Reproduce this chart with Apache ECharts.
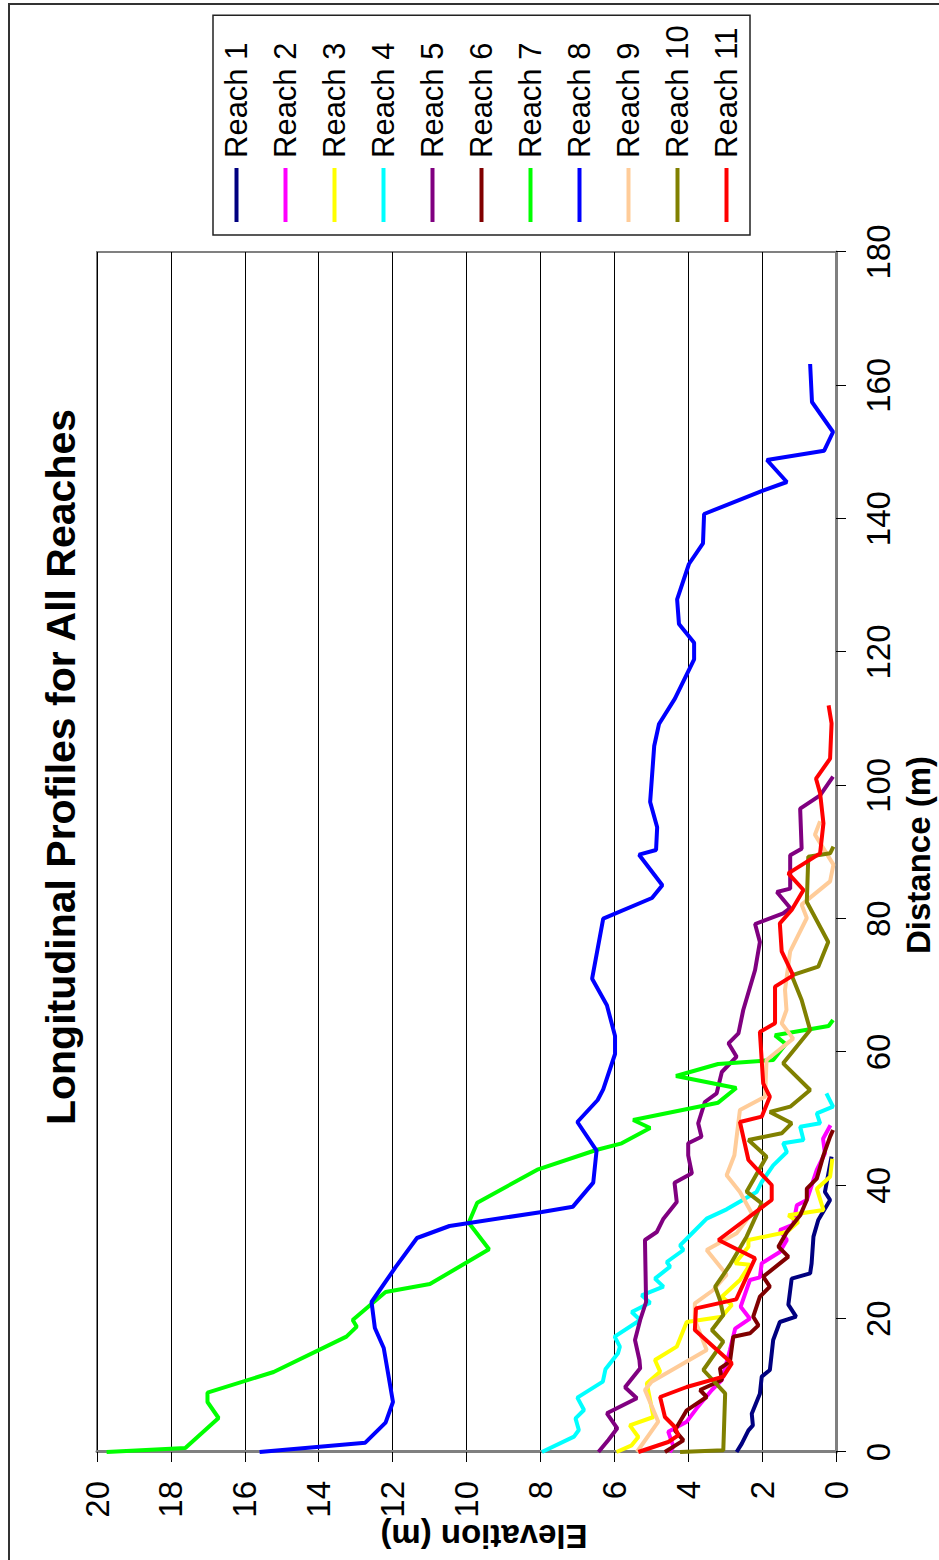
<!DOCTYPE html>
<html>
<head>
<meta charset="utf-8">
<script src="https://cdn.jsdelivr.net/npm/echarts@6/dist/echarts.min.js"></script>
<style>
html,body{margin:0;padding:0;background:#fff;overflow:hidden;width:939px;height:1560px;}
#chart{position:absolute;left:0;top:0;width:1560px;height:939px;transform-origin:0 0;transform:translateY(1560px) rotate(-90deg);}
</style>
</head>
<body>
<div id="chart"></div>
<script>
const seriesNames = ['Reach 1','Reach 2','Reach 3','Reach 4','Reach 5','Reach 6','Reach 7','Reach 8','Reach 9','Reach 10','Reach 11'];
const seriesColors = ['#000080','#FF00FF','#FFFF00','#00FFFF','#800080','#800000','#00FF00','#0000FF','#FFCC99','#808000','#FF0000'];
const distanceTicks = [0,20,40,60,80,100,120,140,160,180];
const elevationTicks = [0,2,4,6,8,10,12,14,16,18,20];

const reach1Distance = [0,1.25,3.25,4.0,5.75,8.75,11.3,12.3,16.8,19.5,20.3,22.1,26.0,26.8,28.3,32.3,34.8,37.8,39.0,44.3];
const reach1Elevation = [2.69,2.55,2.37,2.25,2.28,2.06,2.01,1.79,1.7,1.52,1.08,1.29,1.2,0.7,0.66,0.61,0.48,0.16,0.3,0.12];

const reach2Distance = [0,0.8,3.05,4.55,6.55,9.3,10.8,15.3,18.5,20.0,21.8,25.8,26.2,28.3,30.0,31.8,33.3,34.1,37.0,37.8,42.3,44.8,47.0,49.0];
const reach2Elevation = [4.5,4.4,4.54,4.04,3.77,3.36,3.09,2.87,2.73,2.33,2.58,2.33,2.06,2.01,1.52,1.33,1.52,1.16,1.06,0.79,0.52,0.3,0.35,0.15];

const reach3Distance = [0,1.0,2.25,4.0,5.25,10.3,12.05,13.8,15.8,19.5,20.3,22.05,23.3,25.8,28.1,28.3,30.8,31.8,33.0,34.5,35.5,36.3,39.5,41.3,44.0];
const reach3Elevation = [5.94,5.53,5.35,5.58,4.94,5.12,4.76,4.9,4.31,4.04,3.09,2.82,3.09,2.6,2.33,2.73,2.37,2.37,1.33,1.02,1.29,0.34,0.52,0.16,0.1];

const reach4Distance = [0,2.3,3.3,5.05,6.3,8.15,10.55,12.4,14.8,15.8,17.3,19.8,21.0,22.4,23.5,24.8,26.0,27.8,28.5,30.3,31.0,33.0,35.0,36.4,39.0,40.5,43.0,45.0,46.3,46.8,48.8,49.3,50.8,51.8,53.8];
const reach4Elevation = [7.96,7.09,6.96,7.05,6.82,7.0,6.31,6.24,5.9,5.85,5.99,5.3,5.53,5.03,5.26,4.67,4.9,4.49,4.58,4.13,4.22,3.86,3.5,2.96,2.15,2.01,1.7,1.33,1.43,0.88,0.97,0.43,0.52,0.08,0.26];

const reach5Distance = [0,1.8,3.55,5.8,8.05,9.7,12.55,13.8,16.8,19.8,22.5,31.8,33.0,35.0,37.5,40.4,41.8,44.5,46.3,47.3,49.3,52.5,53.8,57.0,59.3,61.3,62.8,66.3,72.3,76.5,79.2,80.8,81.6,84.0,84.5,89.5,90.5,96.5,98.5,101.3];
const reach5Elevation = [6.43,6.16,5.92,6.2,5.39,5.71,5.3,5.32,5.44,5.3,5.14,5.17,4.85,4.67,4.31,4.37,3.9,4.0,4.0,3.64,3.73,3.55,3.23,3.09,2.69,2.91,2.64,2.51,2.19,2.06,2.19,1.43,1.24,1.6,1.24,1.24,0.93,0.97,0.43,0.08];

const reach6Distance = [0,1.75,3.25,6.25,7.25,8.25,9.3,10.8,12.55,13.55,17.3,17.8,19.0,20.3,23.3,24.8,26.3,29.3,30.8,33.0,35.5,37.8,39.5,41.0,44.5,47.3,48.3];
const reach6Elevation = [4.63,4.13,4.36,4.04,3.77,3.5,3.68,3.09,3.14,2.87,2.78,2.33,2.1,2.24,2.06,1.79,1.97,1.29,1.56,1.33,0.97,0.79,0.79,0.52,0.34,0.16,0.08];

const reach7Distance = [0,0.6,5.1,7.5,8.9,12.0,17.3,18.8,19.8,24.0,25.2,30.4,34.4,37.4,42.4,45.3,46.3,48.6,49.8,52.4,54.6,56.4,58.2,58.8,61.2,62.5,63.9,64.8];
const reach7Elevation = [19.74,17.61,16.71,17.01,17.01,15.22,13.25,12.97,13.08,12.19,10.99,9.39,9.94,9.71,8.06,6.49,5.8,5.03,5.49,3.19,2.7,4.33,3.19,1.7,1.36,1.65,0.2,0.08];

const reach8Distance = [0,1.4,4.4,7.5,15.6,18.6,22.5,27.8,32.1,33.9,36.0,36.8,40.4,45.2,49.5,52.8,54.4,59.7,62.4,67.0,71.0,80.0,83.1,85.0,89.6,90.3,93.7,97.5,105.9,109.2,113.0,118.9,121.4,124.2,127.9,133.2,136.3,140.7,144.2,145.5,148.8,150.2,153.0,157.5,163.2];
const reach8Elevation = [15.6,12.74,12.19,11.99,12.24,12.48,12.57,11.91,11.34,10.46,7.96,7.12,6.57,6.48,7.0,6.45,6.3,5.98,5.98,6.2,6.6,6.3,4.98,4.7,5.33,4.87,4.84,5.03,4.92,4.79,4.36,3.84,3.84,4.25,4.3,3.98,3.6,3.57,1.98,1.33,1.87,0.32,0.08,0.65,0.7];

const reach9Distance = [0,4.55,9.3,10.55,15.3,19.8,22.3,24.3,26.6,30.3,32.8,35.8,39.0,41.5,44.5,51.3,53.3,58.8,62.0,64.3,66.3,69.3,75.1,80.1,82.1,85.6,88.1,92.6,94.6];
const reach9Elevation = [5.39,4.81,5.17,4.99,3.5,3.82,3.82,3.32,2.96,3.5,2.69,2.28,2.6,2.96,2.75,2.6,1.92,1.88,1.16,1.47,1.34,1.38,1.24,0.79,0.93,0.16,0.07,0.57,0.43];

const reach10Distance = [0,0.25,8.8,12.3,16.55,18.3,20.55,22.8,24.8,28.05,32.3,37.3,39.05,44.3,46.8,47.8,49.3,51.0,51.8,54.3,58.3,63.3,67.8,71.5,72.8,76.5,82.5,89.3,89.8,90.8];
const reach10Elevation = [4.22,3.05,3.0,3.59,3.05,3.36,3.05,3.14,3.27,2.87,2.42,2.01,2.42,1.88,2.37,1.47,1.2,1.79,1.24,0.7,1.43,0.7,0.93,1.2,0.48,0.21,0.79,0.75,0.16,0.07];

const reach11Distance = [0,1.5,2.5,3.75,5.25,8.25,9.75,11.3,13.3,18.3,21.55,22.9,29.05,31.8,37.8,40.05,43.8,49.5,50.3,53.3,55.3,63.0,64.3,69.8,71.5,75.1,79.3,81.3,84.3,86.8,89.8,94.3,98.8,101.0,104.0,109.3,112.0];
const reach11Elevation = [5.35,4.54,4.27,4.36,4.63,4.76,4.04,3.05,2.82,3.82,3.79,2.7,2.19,3.18,1.74,1.74,2.37,2.6,2.01,1.79,1.97,2.06,1.65,1.65,1.16,1.47,1.52,1.2,0.88,1.29,0.43,0.34,0.43,0.54,0.16,0.12,0.2];

const allDistances = [reach1Distance,reach2Distance,reach3Distance,reach4Distance,reach5Distance,reach6Distance,reach7Distance,reach8Distance,reach9Distance,reach10Distance,reach11Distance];
const allElevations = [reach1Elevation,reach2Elevation,reach3Elevation,reach4Elevation,reach5Elevation,reach6Elevation,reach7Elevation,reach8Elevation,reach9Elevation,reach10Elevation,reach11Elevation];

const FONT = '"Liberation Sans", Arial, Helvetica, sans-serif';

const chart = echarts.init(document.getElementById('chart'), null, {renderer:'svg', width:1560, height:939});

const series = seriesNames.map((name, i) => ({
  name: name,
  type: 'line',
  data: allDistances[i].map((d, k) => [d, allElevations[i][k]]),
  symbol: 'none',
  smooth: false,
  animation: false,
  lineStyle: {color: seriesColors[i], width: 4},
  itemStyle: {color: seriesColors[i]},
  z: 3 + i
}));

chart.setOption({
  animation: false,
  backgroundColor: '#ffffff',
  grid: {left:108, top:97, width:1200, height:739, show:true, borderColor:'#808080', borderWidth:2, backgroundColor:'transparent'},
  xAxis: {
    type:'value', min:distanceTicks[0], max:distanceTicks[distanceTicks.length-1], interval:20,
    axisLine:{show:true, onZero:false, lineStyle:{color:'#808080', width:3}},
    axisTick:{show:true, inside:false, length:10, lineStyle:{color:'#000', width:1}},
    axisLabel:{show:true, margin:26, fontSize:33, color:'#000', fontFamily:FONT},
    splitLine:{show:false}
  },
  yAxis: {
    type:'value', min:elevationTicks[0], max:elevationTicks[elevationTicks.length-1], interval:2,
    axisLine:{show:true, onZero:false, lineStyle:{color:'#808080', width:3}},
    axisTick:{show:true, inside:false, length:10, lineStyle:{color:'#000', width:1}},
    axisLabel:{show:true, margin:29, fontSize:33, color:'#000', fontFamily:FONT},
    splitLine:{show:true, lineStyle:{color:'#000', width:1}}
  },
  legend: {
    show:true, orient:'vertical', left:1325, top:213,
    data: seriesNames.map((n,i)=>({name:n, icon:'rect', itemStyle:{color:seriesColors[i]}})),
    itemWidth:54, itemHeight:4, itemGap:18,
    padding:[8,10,8,13],
    borderColor:'#222', borderWidth:1.5, backgroundColor:'#fff',
    textStyle:{fontSize:31, lineHeight:31, color:'#000', fontFamily:FONT, padding:[0,0,0,5]},
    selectedMode:false
  },
  graphic: [
    {type:'rect', shape:{x:-10, y:9, width:1566, height:960}, style:{fill:'none', stroke:'#333', lineWidth:2}, silent:true},
    {type:'text', x:793, y:61, style:{text:'Longitudinal Profiles for All Reaches', fontSize:41, fontWeight:'bold', fontFamily:FONT, fill:'#000', align:'center', verticalAlign:'middle'}},
    {type:'text', x:705, y:918, style:{text:'Distance (m)', fontSize:33, fontWeight:'bold', fontFamily:FONT, fill:'#000', align:'center', verticalAlign:'middle'}},
    {type:'text', x:24, y:484, rotation:Math.PI/2, style:{text:'Elevation (m)', fontSize:33, fontWeight:'bold', fontFamily:FONT, fill:'#000', align:'center', verticalAlign:'middle'}}
  ],
  series: series
});
</script>
</body>
</html>
